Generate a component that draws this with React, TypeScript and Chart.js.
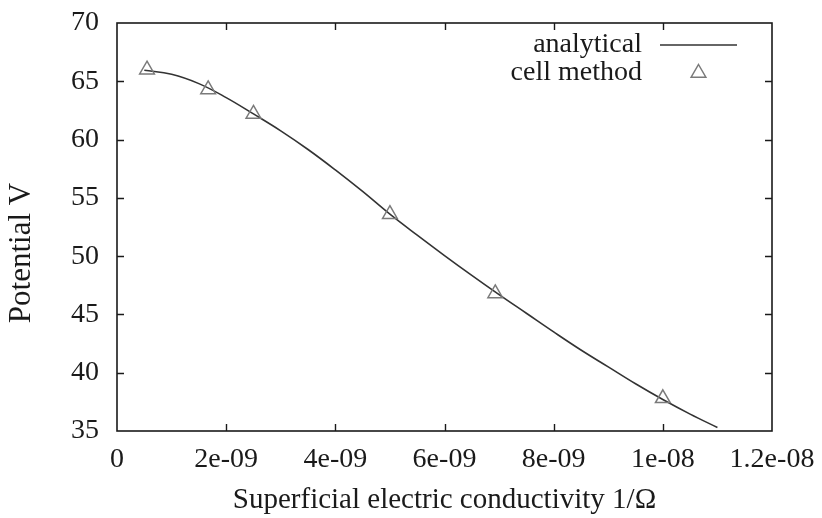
import React, { useEffect, useRef } from "react";
import { Chart, registerables } from "chart.js";

Chart.register(...registerables);

// Analytical solution, sampled along the curve (x in 1/Ω, y in V)
const analyticalX = [
  0.5e-9, 1.0e-9, 1.5e-9, 2.0e-9, 2.5e-9, 3.0e-9, 3.5e-9, 4.0e-9, 4.5e-9, 5.0e-9, 5.5e-9,
  6.0e-9, 6.5e-9, 7.0e-9, 7.5e-9, 8.0e-9, 8.5e-9, 9.0e-9, 9.5e-9, 10.0e-9, 10.5e-9, 11.0e-9,
];
const analyticalY = [
  65.95, 65.6, 64.8, 63.6, 62.2, 60.75, 59.15, 57.4, 55.55, 53.6, 51.8,
  50.05, 48.35, 46.7, 45.1, 43.5, 41.95, 40.5, 39.05, 37.7, 36.45, 35.3,
];

// Cell method results
const cellX = [0.55e-9, 1.67e-9, 2.5e-9, 5.0e-9, 6.93e-9, 1.0e-8];
const cellY = [66.0, 64.3, 62.2, 53.6, 46.8, 37.8];

const xTickLabels = ["0", "2e-09", "4e-09", "6e-09", "8e-09", "1e-08", "1.2e-08"];
const yTickLabels = ["35", "40", "45", "50", "55", "60", "65", "70"];

const seriesLabels = ["analytical", "cell method"];
const yTitle = "Potential V";
const xTitle = "Superficial electric conductivity 1/Ω";

const FONT = "'Liberation Serif', 'DejaVu Serif', serif";
const INK = "#1a1a1a";
const LINE = "#333333";
const MARK = "#7a7a7a";

// gnuplot-style frame with inward ticks on all four sides, y title and a key at top right
const framePlugin = {
  id: "frame",
  afterDatasetsDraw(chart: any) {
    const { ctx, chartArea, scales } = chart;
    const { left, right, top, bottom } = chartArea;
    const tick = 7;
    ctx.save();
    ctx.strokeStyle = INK;
    ctx.lineWidth = 1.6;
    ctx.strokeRect(left, top, right - left, bottom - top);
    ctx.lineWidth = 1.4;
    ctx.beginPath();
    scales.x.ticks.forEach((t: any) => {
      const px = Math.round(scales.x.getPixelForValue(t.value)) + 0.5;
      if (px <= left + 1 || px >= right - 1) return;
      ctx.moveTo(px, bottom);
      ctx.lineTo(px, bottom - tick);
      ctx.moveTo(px, top);
      ctx.lineTo(px, top + tick);
    });
    scales.y.ticks.forEach((t: any) => {
      const py = Math.round(scales.y.getPixelForValue(t.value)) + 0.5;
      if (py <= top + 1 || py >= bottom - 1) return;
      ctx.moveTo(left, py);
      ctx.lineTo(left + tick, py);
      ctx.moveTo(right, py);
      ctx.lineTo(right - tick, py);
    });
    ctx.stroke();

    // y axis title
    ctx.save();
    ctx.translate(22, (top + bottom) / 2 + 26);
    ctx.rotate(-Math.PI / 2);
    ctx.font = `31px ${FONT}`;
    ctx.fillStyle = INK;
    ctx.textAlign = "center";
    ctx.textBaseline = "middle";
    ctx.fillText(yTitle, 0, 0);
    ctx.restore();

    // key
    const textRight = right - 130;
    const sampleL = right - 112;
    const sampleR = right - 35;
    const row1 = top + 22;
    const row2 = top + 50;
    ctx.font = `28px ${FONT}`;
    ctx.fillStyle = INK;
    ctx.textAlign = "right";
    ctx.textBaseline = "middle";
    ctx.fillText(chart.data.datasets[0].label, textRight, row1);
    ctx.fillText(chart.data.datasets[1].label, textRight, row2);
    ctx.strokeStyle = LINE;
    ctx.lineWidth = 1.5;
    ctx.beginPath();
    ctx.moveTo(sampleL, row1);
    ctx.lineTo(sampleR, row1);
    ctx.stroke();
    const cx = (sampleL + sampleR) / 2;
    const r = 8.5;
    ctx.strokeStyle = MARK;
    ctx.beginPath();
    ctx.moveTo(cx, row2 - r);
    ctx.lineTo(cx + 0.866 * r, row2 + 0.5 * r);
    ctx.lineTo(cx - 0.866 * r, row2 + 0.5 * r);
    ctx.closePath();
    ctx.stroke();
    ctx.restore();
  },
};

export default function App() {
  const canvasRef = useRef<HTMLCanvasElement | null>(null);

  useEffect(() => {
    document.body.style.margin = "0";
    const canvas = canvasRef.current;
    if (!canvas) return;
    const chart = new Chart(canvas, {
      type: "scatter",
      data: {
        datasets: [
          {
            label: seriesLabels[0],
            data: analyticalX.map((x, i) => ({ x, y: analyticalY[i] })),
            showLine: true,
            borderColor: LINE,
            borderWidth: 1.6,
            pointRadius: 0,
            tension: 0.4,
            order: 2,
          },
          {
            label: seriesLabels[1],
            data: cellX.map((x, i) => ({ x, y: cellY[i] })),
            showLine: false,
            pointStyle: "triangle",
            pointRadius: 8.5,
            pointBorderColor: MARK,
            pointBackgroundColor: "rgba(255,255,255,0)",
            pointBorderWidth: 1.5,
            order: 1,
          },
        ],
      },
      options: {
        responsive: false,
        animation: false,
        layout: { padding: { left: 0, right: 50, top: 23, bottom: 0 } },
        plugins: {
          legend: { display: false },
          tooltip: { enabled: false },
        },
        scales: {
          x: {
            type: "linear",
            min: 0,
            max: 1.2e-8,
            grid: { display: false, drawTicks: false },
            border: { display: false },
            ticks: {
              stepSize: 2e-9,
              padding: 12,
              color: INK,
              font: { family: FONT, size: 28 },
              maxRotation: 0,
              autoSkip: false,
              callback: (_v: any, i: number) => xTickLabels[i],
            },
            title: {
              display: true,
              text: xTitle,
              color: INK,
              font: { family: FONT, size: 29 },
              padding: { top: 4, bottom: 0 },
            },
            afterFit: (s: any) => {
              s.height = 518 - 431;
              s.paddingLeft = 0;
              s.paddingRight = 0;
            },
          },
          y: {
            type: "linear",
            min: 35,
            max: 70,
            grid: { display: false, drawTicks: false },
            border: { display: false },
            ticks: {
              stepSize: 5,
              padding: 18,
              color: INK,
              font: { family: FONT, size: 28 },
              callback: (_v: any, i: number) => yTickLabels[i],
            },
            title: { display: false },
            afterFit: (s: any) => {
              s.width = 117;
              s.paddingTop = 0;
              s.paddingBottom = 0;
            },
          },
        },
      },
      plugins: [framePlugin],
    });
    return () => chart.destroy();
  }, []);

  return (
    <div style={{ width: 822, height: 518, background: "#fff" }}>
      <canvas ref={canvasRef} width={822} height={518} />
    </div>
  );
}
